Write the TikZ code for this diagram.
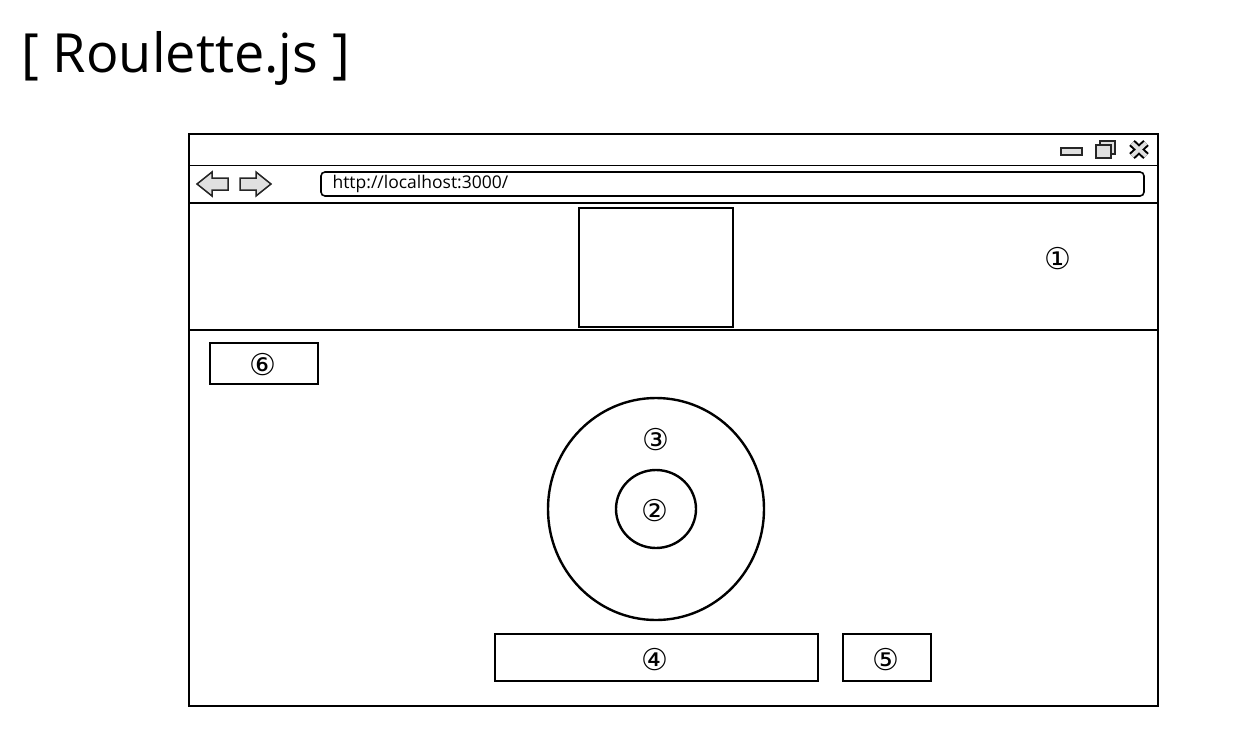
\documentclass[tikz,border=0pt]{standalone}
\usepackage{fontspec}
\setmainfont{Open Sans}
\newfontfamily\numfont{DejaVu Sans}
\usetikzlibrary{positioning}
\definecolor{btngray}{HTML}{E0E0E0}
\tikzset {
  x=1pt, y=-1pt,
  % browser window lines
  frame/.style = {draw, line width=1.6pt},
  % thick boxes of the page layout
  part/.style = {draw, line width=2.4pt},
  % circled numbers
  num/.style = {font=\numfont\fontsize{30}{30}\selectfont, inner sep=0pt},
  icon/.style = {draw=black!85, line width=1.5pt, fill=btngray},
}
\begin{document}
\begin{tikzpicture}
        \useasboundingbox (0,0) rectangle (1245,750);
        \node[anchor=base west, inner sep=0pt, font=\fontsize{54}{54}\selectfont] (title) at (21,72) {[ Roulette.js ]};

        % window
        \draw[frame] (189,134) rectangle (1158,706);
        \draw[line width=1pt] (189,165) -- (1158,165);
        \draw[frame] (189,203) -- (1158,203);
        \draw[frame] (189,330) -- (1158,330);

        % title bar icons
        \draw[icon] (1061,148) rectangle (1082,155);
        \draw[icon] (1100,141) rectangle (1115,154);
        \draw[icon] (1096,145) rectangle (1111,158);
        \draw[line width=8pt] (1132,143) -- (1146,156) (1146,143) -- (1132,156);
        \draw[line width=4pt, btngray] (1132,143) -- (1146,156) (1146,143) -- (1132,156);

        % navigation
        \draw[icon] (197,184) -- (212,172) -- (212,178) -- (228,178) -- (228,190) -- (212,190) -- (212,196) -- cycle;
        \draw[icon] (271,184) -- (256,172) -- (256,178) -- (240,178) -- (240,190) -- (256,190) -- (256,196) -- cycle;
        \draw[frame, rounded corners=4pt] (321,172) rectangle (1144,196);
        \node[anchor=west, font=\fontsize{17.5}{17.5}\selectfont] (url) at (329,184) {http://localhost:3000/};

        % header
        \draw[part] (579,208) rectangle (733,327);
        \node[num] (n1) at (1058,259) {①};

        % page
        \draw[part] (210,343) rectangle (318,384);
        \node[num] (n6) at (263,365) {⑥};

        \draw[part] (656,509) ellipse (108 and 111);
        \draw[part] (656,509) ellipse (40 and 39);
        \node[num] (n3) at (656,440) {③};
        \node[num] (n2) at (655,511) {②};

        \draw[part] (495,634) rectangle (818,681);
        \node[num] (n4) at (655,660) {④};
        \draw[part] (843,634) rectangle (931,681);
        \node[num] (n5) at (886,660) {⑤};
      \end{tikzpicture}
\end{document}
